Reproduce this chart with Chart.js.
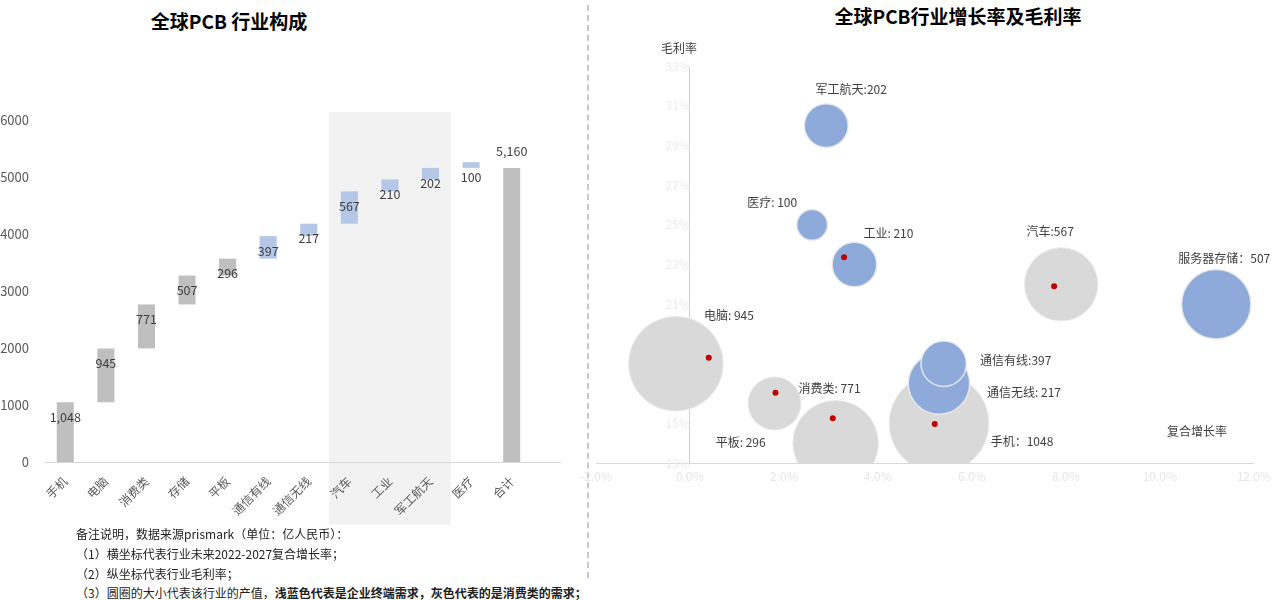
<!DOCTYPE html>
<html>
<head>
<meta charset="utf-8">
<script src="https://cdn.jsdelivr.net/npm/chart.js@4.4.0/dist/chart.umd.min.js"></script>
<style>
  body { margin: 0; width: 1277px; height: 600px; position: relative; overflow: hidden; background: #fff;
         font-family: "Noto Sans CJK SC", "Noto Sans", sans-serif; color: #000; }
  .abs { position: absolute; white-space: nowrap; }
  .title { font-weight: bold; font-size: 19px; transform: translate(-50%, -50%); }
  .axis-title { font-size: 12px; color: #404040; transform: translateY(-50%); }
  .note { font-size: 12px; color: #222; left: 76px; transform: translateY(-50%); }
  .sep { left: 587px; top: 5px; height: 573px; border-left: 2px dashed #c8c8c8; }
</style>
</head>
<body>
<div class="abs title" style="left:229px; top:20px;">全球PCB 行业构成</div>
<div class="abs title" style="left:958px; top:15px;">全球PCB行业增长率及毛利率</div>
<div class="abs sep"></div>

<div class="abs" style="left:0; top:100px; width:580px; height:430px;"><canvas id="chartWaterfall"></canvas></div>
<div class="abs" style="left:570px; top:40px; width:707px; height:453px;"><canvas id="chartBubble"></canvas></div>

<div class="abs axis-title" style="left:661px; top:47px;">毛利率</div>
<div class="abs axis-title" style="left:1167px; top:430px;">复合增长率</div>

<div class="abs note" style="top:533px;">备注说明，数据来源prismark（单位：亿人民币）：</div>
<div class="abs note" style="top:553px;">（1）横坐标代表行业未来2022-2027复合增长率；</div>
<div class="abs note" style="top:573px;">（2）纵坐标代表行业毛利率；</div>
<div class="abs note" style="top:592px;">（3）圆圈的大小代表该行业的产值，<b>浅蓝色代表是企业终端需求，灰色代表的是消费类的需求；</b></div>

<script>
// ---- 左图：行业构成（瀑布图） ----
const categories = ["手机", "电脑", "消费类", "存储", "平板", "通信有线", "通信无线", "汽车", "工业", "军工航天", "医疗", "合计"];
const segmentValues = [1048, 945, 771, 507, 296, 397, 217, 567, 210, 202, 100];
const totalValue = 5160;
const highlightCats = ["汽车", "工业", "军工航天"];
const yTicks = [0, 1000, 2000, 3000, 4000, 5000, 6000];

// ---- 右图：增长率及毛利率（气泡图） ----
// 浅蓝：企业终端需求
const blueGrowth = [2.9, 2.6, 3.5, 11.2, 5.3, 5.4];
const blueMargin = [30, 25, 23, 21, 17, 18];
const blueSize = [202, 100, 210, 507, 397, 217];
const blueLabels = ["军工航天:202", "医疗: 100", "工业: 210", "服务器存储：507", "通信无线: 217", "通信有线:397"];
// 灰色：消费类需求
const greyGrowth = [-0.3, 1.8, 3.1, 5.3, 7.9];
const greyMargin = [18, 16, 14, 15, 22];
const greySize = [945, 296, 771, 1048, 567];
const greyLabels = ["电脑: 945", "消费类: 771", "平板: 296", "手机：1048", "汽车:567"];
// 红点
const dotGrowth = [3.28, 0.40, 1.82, 3.04, 5.21, 7.75];
const dotMargin = [23.36, 18.30, 16.54, 15.25, 14.96, 21.90];

const GREY = "#bfbfbf";
const BLUE = "#b4c7e7";
const FONT = "'Noto Sans CJK SC', 'Noto Sans', sans-serif";

// 瀑布图：浮动柱
let running = 0;
const floating = segmentValues.map(v => { const s = [running, running + v]; running += v; return s; });
floating.push([0, totalValue]);
const barColors = categories.map((c, i) => (i < 5 || i === categories.length - 1) ? GREY : BLUE);

const waterfallDecor = {
  id: "waterfallDecor",
  beforeDraw(chart) {
    const { ctx, chartArea } = chart;
    const x = chart.scales.x;
    const step = x.getPixelForValue(1) - x.getPixelForValue(0);
    const i0 = categories.indexOf(highlightCats[0]);
    const i1 = categories.indexOf(highlightCats[highlightCats.length - 1]);
    const left = x.getPixelForValue(i0) - step / 2;
    const right = x.getPixelForValue(i1) + step / 2;
    ctx.save();
    ctx.fillStyle = "#f2f2f2";
    ctx.fillRect(left, chartArea.top - 8, right - left, chartArea.bottom - chartArea.top + 71);
    ctx.restore();
  },
  afterDatasetsDraw(chart) {
    const { ctx, chartArea } = chart;
    ctx.save();
    // 横轴线
    ctx.strokeStyle = "#d9d9d9";
    ctx.lineWidth = 1;
    ctx.beginPath();
    ctx.moveTo(chartArea.left, chartArea.bottom + 0.5);
    ctx.lineTo(chartArea.right + 29, chartArea.bottom + 0.5);
    ctx.stroke();
    // 数据标签
    ctx.fillStyle = "#404040";
    ctx.font = "12.5px " + FONT;
    ctx.textAlign = "center";
    ctx.textBaseline = "middle";
    const meta = chart.getDatasetMeta(0);
    meta.data.forEach((bar, i) => {
      const top = Math.min(bar.y, bar.base);
      const isTotal = i === meta.data.length - 1;
      const val = isTotal ? totalValue : segmentValues[i];
      ctx.fillText(val.toLocaleString("en-US"), bar.x, isTotal ? top - 17 : top + 15);
    });
    ctx.restore();
  }
};

new Chart(document.getElementById("chartWaterfall").getContext("2d"), {
  type: "bar",
  data: {
    labels: categories,
    datasets: [{
      data: floating,
      backgroundColor: barColors,
      borderWidth: 0,
      barPercentage: 0.42,
      categoryPercentage: 1,
    }],
  },
  options: {
    responsive: true,
    maintainAspectRatio: false,
    animation: false,
    events: [],
    layout: { padding: { top: 20, right: 48, left: 0, bottom: 0 } },
    plugins: { legend: { display: false }, tooltip: { enabled: false } },
    scales: {
      x: {
        grid: { display: false },
        border: { display: false },
        ticks: { color: "#595959", font: { size: 12, family: FONT }, minRotation: 45, maxRotation: 45, padding: 4 },
        afterFit(s) { s.height = 68; },
      },
      y: {
        min: 0, max: 6000,
        afterBuildTicks(s) { s.ticks = yTicks.map(v => ({ value: v })); },
        grid: { display: false },
        border: { display: false },
        ticks: { color: "#595959", font: { size: 13, family: FONT }, padding: 8, callback: v => String(v) },
        afterFit(s) { s.width = 45; },
      },
    },
  },
  plugins: [waterfallDecor],
});

// 气泡图
const BUBBLE_K = 1.54;
const blueOffsets = [[25, -36], [-40, -22], [34, -31], [8, -46], [85, 9], [72, -3]];
const greyOffsets = [[53, -48], [55, -15], [-95, -1], [83, 18], [-11, -53]];

const bubbleLabels = {
  id: "bubbleLabels",
  afterDatasetsDraw(chart) {
    const { ctx } = chart;
    ctx.save();
    ctx.fillStyle = "#404040";
    ctx.font = "12px " + FONT;
    ctx.textAlign = "center";
    ctx.textBaseline = "middle";
    [[1, blueLabels, blueOffsets], [2, greyLabels, greyOffsets]].forEach(([di, texts, offs]) => {
      chart.getDatasetMeta(di).data.forEach((el, i) => {
        ctx.fillText(texts[i], el.x + offs[i][0], el.y + offs[i][1]);
      });
    });
    ctx.restore();
  }
};

const toPoints = (xs, ys, vs) => xs.map((x, i) => ({ x: x, y: ys[i], v: vs ? vs[i] : 0 }));
const sizeRadius = ctx => BUBBLE_K * Math.sqrt(ctx.raw.v);

new Chart(document.getElementById("chartBubble").getContext("2d"), {
  type: "bubble",
  data: {
    datasets: [
      {
        label: "red",
        data: toPoints(dotGrowth, dotMargin),
        backgroundColor: "#c00000",
        borderWidth: 0,
        radius: 3,
        clip: 0,
      },
      {
        label: "企业终端需求",
        data: toPoints(blueGrowth, blueMargin, blueSize),
        backgroundColor: "#8eaadb",
        borderColor: "rgba(235,235,235,0.9)",
        borderWidth: 1.5,
        radius: sizeRadius,
        clip: 0,
      },
      {
        label: "消费类需求",
        data: toPoints(greyGrowth, greyMargin, greySize),
        backgroundColor: "#d9d9d9",
        borderColor: "rgba(235,235,235,0.9)",
        borderWidth: 1,
        radius: sizeRadius,
        clip: 0,
      },
    ],
  },
  options: {
    responsive: true,
    maintainAspectRatio: false,
    animation: false,
    events: [],
    layout: { autoPadding: false, padding: { top: 26, left: 26, right: 22, bottom: 0 } },
    plugins: { legend: { display: false }, tooltip: { enabled: false } },
    scales: {
      x: {
        type: "linear",
        min: -2, max: 12,
        grid: { display: false, drawTicks: false },
        border: { color: "#d9d9d9", width: 1 },
        ticks: { stepSize: 2, color: "#e6e6e6", font: { size: 12, family: FONT }, padding: 6,
                 callback: v => v.toFixed(1) + "%" },
        afterFit(s) { s.height = 30; },
      },
      y: {
        type: "linear",
        position: { x: 0 },
        min: 13, max: 33,
        grid: { display: false, drawTicks: false },
        border: { color: "#d0d0d0", width: 1 },
        ticks: { stepSize: 2, color: "#ebebeb", font: { size: 12, family: FONT }, padding: 7,
                 callback: v => v + "%" },
      },
    },
  },
  plugins: [bubbleLabels],
});
</script>
</body>
</html>
